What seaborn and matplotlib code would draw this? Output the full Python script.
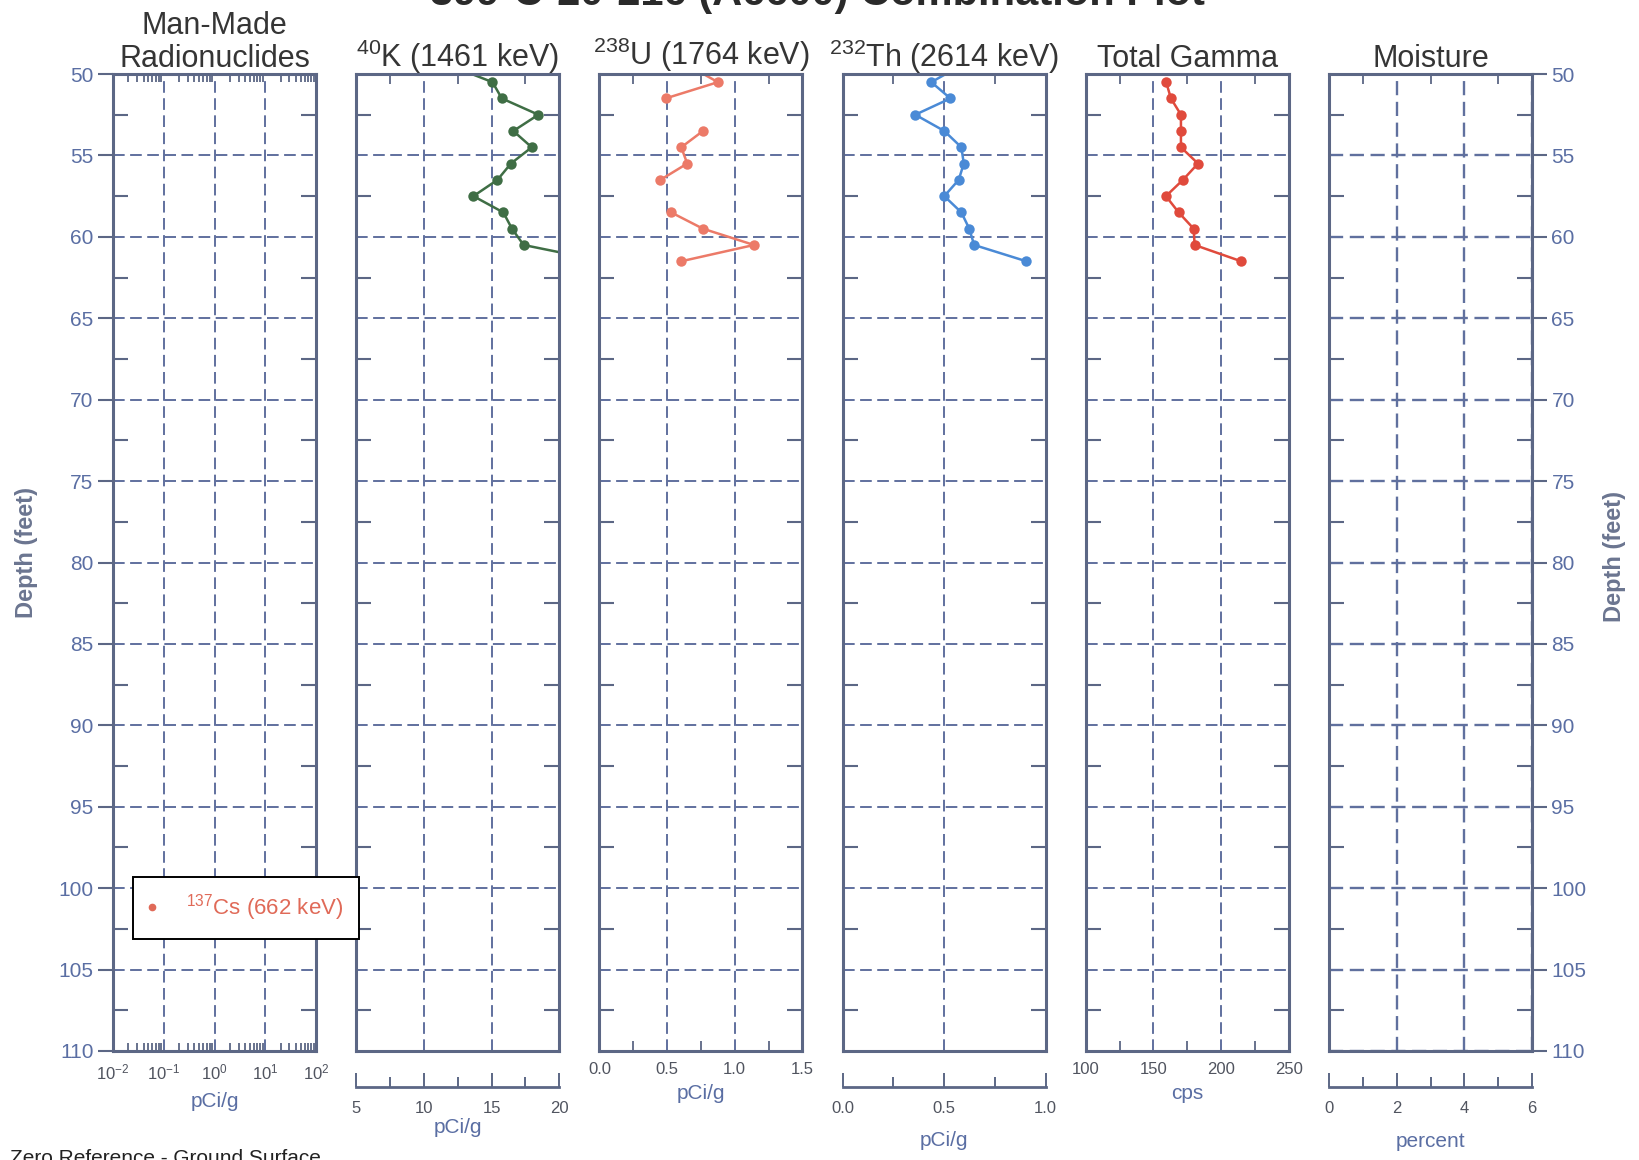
import numpy as np
import pandas as pd
import matplotlib
matplotlib.use("Agg")
import matplotlib.pyplot as plt
from matplotlib.ticker import MultipleLocator, FixedLocator, LogLocator, NullFormatter, FormatStrFormatter
from matplotlib.lines import Line2D
import seaborn as sns

# ---------------- data ----------------
depth_ft = [49.5, 50.5, 51.5, 52.5, 53.5, 54.5, 55.5, 56.5, 57.5, 58.5, 59.5, 60.5, 61.5]
k40_pci = [12.0, 15.07, 15.76, 18.46, 16.61, 17.97, 16.43, 15.44, 13.66, 15.87, 16.51, 17.37, 23.3]
u238_pci = [0.66, 0.876, 0.489, np.nan, 0.765, 0.605, 0.649, 0.451, np.nan, 0.530, 0.765, 1.142, 0.605]
th232_pci = [0.58, 0.437, 0.531, 0.358, 0.501, 0.585, 0.597, 0.572, 0.501, 0.585, 0.624, 0.648, 0.905]
gamma_cps = [np.nan, 159.4, 162.9, 170.3, 170.3, 170.3, 182.9, 171.8, 159.2, 168.6, 179.7, 180.4, 214.8]

panel_titles = ["Man-Made\nRadionuclides", r"$^{40}$K (1461 keV)", r"$^{238}$U (1764 keV)",
                r"$^{232}$Th (2614 keV)", "Total Gamma", "Moisture"]
unit_labels = ["pCi/g", "pCi/g", "pCi/g", "pCi/g", "cps", "percent"]
x_limits = [(1e-2, 1e2), (5, 20), (0, 1.5), (0, 1.0), (100, 250), (0, 6)]
x_major = [None, [5, 10, 15, 20], [0, 0.5, 1.0, 1.5], [0, 0.5, 1.0], [100, 150, 200, 250], [0, 2, 4, 6]]
x_minor_step = [None, 2.5, 0.25, 0.25, 25, 1]
x_fmt = [None, "%d", "%.1f", "%.1f", "%d", "%d"]
legend_label = r"$^{137}$Cs (662 keV)"
main_title = "399-C-20-216 (A6600) Combination Plot"
footer = "Zero Reference - Ground Surface"

# ---------------- style ----------------
sns.set_style("white")
plt.rcParams["font.family"] = ["Liberation Sans", "DejaVu Sans"]
plt.rcParams["mathtext.fontset"] = "custom"
plt.rcParams["mathtext.rm"] = "Liberation Sans"
plt.rcParams["mathtext.it"] = "Liberation Sans:italic"
plt.rcParams["mathtext.bf"] = "Liberation Sans:bold"
plt.rcParams["mathtext.default"] = "regular"

spine_c = "#5c6785"
grid_c = "#60709e"
ylab_c = "#5a6ea3"
xlab_c = "#50545f"
unit_c = "#5a6ea3"
title_c = "#353535"
k_c = "#3f6e45"
u_c = "#ec7a68"
th_c = "#4a8ad6"
g_c = "#e04a3c"
cs_c = "#e06a58"

fig = plt.figure(figsize=(16.39, 11.6), dpi=100)
W, H = 1639.0, 1160.0

left0, step, pw = 113.0, 243.2, 203.0
top_px, bot_px = 74.0, 1051.0
axes = []
for i in range(6):
    ax = fig.add_axes([(left0 + step * i) / W, 1 - bot_px / H, pw / W, (bot_px - top_px) / H])
    axes.append(ax)

def seg_frame(vals):
    s = pd.Series(vals, dtype=float)
    d = pd.DataFrame({"depth": depth_ft, "value": s, "seg": s.isna().cumsum()})
    return d.dropna()

series = {1: (k40_pci, k_c), 2: (u238_pci, u_c), 3: (th232_pci, th_c), 4: (gamma_cps, g_c)}
for idx, (vals, col) in series.items():
    d = seg_frame(vals)
    sns.lineplot(data=d, x="value", y="depth", units="seg", estimator=None, sort=False,
                 orient="y", color=col, marker="o", markersize=7.5, markeredgewidth=0,
                 linewidth=1.8, ax=axes[idx], legend=False)

direct = [True, False, True, False, True, False]
label_y = [-0.0512, -0.0778, -0.0440, -0.0921, -0.0440, -0.0931]

for i, ax in enumerate(axes):
    ax.set_facecolor("white")
    for sp in ax.spines.values():
        sp.set_visible(True)
        sp.set_color(spine_c)
        sp.set_linewidth(2.2)
    if i == 0:
        ax.set_xscale("log")
        ax.set_xlim(*x_limits[0])
        ax.xaxis.set_major_locator(LogLocator(base=10, numticks=10))
        ax.xaxis.set_minor_locator(LogLocator(base=10, subs=np.arange(2, 10), numticks=10))
        ax.xaxis.set_minor_formatter(NullFormatter())
    else:
        ax.set_xlim(*x_limits[i])
        ax.xaxis.set_major_locator(FixedLocator(x_major[i]))
        ax.xaxis.set_minor_locator(MultipleLocator(x_minor_step[i]))
        ax.xaxis.set_major_formatter(FormatStrFormatter(x_fmt[i]))
    ax.set_ylim(110, 50)
    ax.yaxis.set_major_locator(MultipleLocator(5))
    ax.yaxis.set_minor_locator(FixedLocator(np.arange(52.5, 110, 5)))
    gl = 1.7 if i == 5 else 1.4
    ax.grid(True, which="major", axis="both", color=grid_c, linestyle=(0, (6, 2.8)), linewidth=gl)
    ax.set_axisbelow(True)

    ax.tick_params(axis="x", which="minor", top=True, bottom=direct[i], direction="in",
                   length=6 if i == 0 else 7, width=1.3, color=spine_c)
    ax.tick_params(axis="x", which="major", top=True, bottom=True, direction="in", length=0,
                   labelbottom=direct[i], labeltop=False, labelsize=12, labelcolor=xlab_c, pad=8)
    ax.tick_params(axis="y", which="minor", left=True, right=True, direction="in",
                   length=11, width=1.5, color=spine_c)
    ax.tick_params(axis="y", which="major", left=(i == 0), right=(i == 5), direction="out",
                   length=11, width=1.5, color=spine_c, labelleft=(i == 0), labelright=(i == 5),
                   labelsize=15, labelcolor=ylab_c, pad=3)
    ax.set_xlabel(unit_labels[i], fontsize=15, color=unit_c)
    ax.xaxis.set_label_coords(0.5, label_y[i])
    ax.xaxis.label.set_va("center")
    ax.set_ylabel("")
    ax.set_title(panel_titles[i], fontsize=22, color=title_c, pad=5, linespacing=1.15)

    if not direct[i]:
        sec = ax.secondary_xaxis(-0.037)
        sec.xaxis.set_major_locator(FixedLocator(x_major[i]))
        sec.xaxis.set_minor_locator(MultipleLocator(x_minor_step[i]))
        sec.xaxis.set_major_formatter(FormatStrFormatter(x_fmt[i]))
        sec.tick_params(which="major", direction="in", length=10, width=1.4, color=spine_c,
                        labelsize=12, labelcolor=xlab_c, pad=10)
        sec.tick_params(which="minor", direction="in", length=7, width=1.4, color=spine_c)
        sec.spines["bottom"].set_color(spine_c)
        sec.spines["bottom"].set_linewidth(2.0)

# legend for man-made radionuclides
h = Line2D([], [], marker="o", linestyle="none", color=cs_c, markersize=4.5)
fig.legend(handles=[h], labels=[legend_label], loc="upper left",
           bbox_to_anchor=(133 / W, 1 - 877 / H), borderaxespad=0, frameon=True, fancybox=False,
           edgecolor="black", framealpha=1, fontsize=16, borderpad=0.7,
           handlelength=0.3, handletextpad=1.4, labelcolor=cs_c)
fig.legends[0].get_frame().set_linewidth(1.4)

fig.text(26 / W, 0.524, "Depth (feet)", rotation=90, ha="center", va="center",
         fontsize=17, fontweight="bold", color="#6b7590")
fig.text(1615 / W, 0.52, "Depth (feet)", rotation=90, ha="center", va="center",
         fontsize=17, fontweight="bold", color="#6b7590")

fig.text(0.499, 1 - 5 / H, main_title, ha="center", va="baseline", fontsize=30,
         fontweight="bold", color="#2a2a2a")
fig.text(10 / W, 1 - 1149 / H, footer, ha="left", va="top", fontsize=15, color="#222222")

fig.savefig("out.png", dpi=100, facecolor="white")
